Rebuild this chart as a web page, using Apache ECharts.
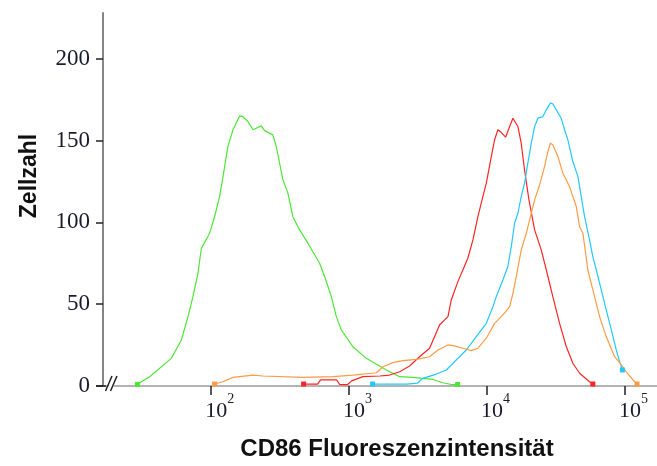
<!DOCTYPE html>
<html>
<head>
<meta charset="utf-8">
<script src="https://cdn.jsdelivr.net/npm/echarts@6/dist/echarts.min.js"></script>
<style>
  html, body { margin: 0; padding: 0; background: #fff; }
  #chart { width: 657px; height: 466px; }
</style>
</head>
<body>
<div id="chart"></div>
<script>
// CD86 histograms: x = log10 of fluorescence intensity, y = cell count
const decadeTicks = [2, 3, 4, 5];
const countTicks = [0, 50, 100, 150, 200];

const greenX = [1.469, 1.558, 1.715, 1.788, 1.836, 1.872, 1.908, 1.933, 1.993, 2.029, 2.065, 2.094, 2.125, 2.162, 2.210, 2.234, 2.270, 2.307, 2.367, 2.391, 2.451, 2.476, 2.524, 2.560, 2.596, 2.645, 2.705, 2.790, 2.826, 2.875, 2.911, 2.947, 3.031, 3.128, 3.273, 3.370, 3.464, 3.609, 3.681, 3.746, 3.790];
const greenY = [1, 5.7, 16.9, 28.1, 42.4, 54.6, 68.9, 84.2, 93.4, 103.6, 115.8, 130.1, 146.3, 156.6, 165.1, 164.7, 161.7, 156.6, 159.0, 156.1, 153.5, 146.4, 126.0, 117.9, 103.5, 95.4, 87.3, 75.0, 66.9, 54.6, 42.4, 34.3, 24.0, 16.9, 9.8, 5.7, 5.3, 4.1, 2.0, 0.9, 0.9];

const redX = [2.674, 2.775, 2.797, 2.913, 2.935, 2.993, 3.022, 3.104, 3.225, 3.297, 3.370, 3.442, 3.514, 3.587, 3.659, 3.720, 3.744, 3.792, 3.828, 3.864, 3.901, 3.937, 3.973, 3.998, 4.034, 4.058, 4.082, 4.107, 4.138, 4.167, 4.191, 4.203, 4.227, 4.251, 4.275, 4.307, 4.348, 4.396, 4.433, 4.480, 4.529, 4.578, 4.625, 4.674, 4.746, 4.770];
const redY = [1.2, 1.2, 3.7, 3.7, 0.9, 0.9, 3.1, 5.7, 6.1, 6.7, 8.7, 12.2, 17.9, 23.1, 37.3, 42.4, 52.6, 63.8, 70.9, 78.1, 89.3, 103.5, 115.8, 124.0, 140.2, 150.5, 156.6, 154.9, 152.1, 158.6, 163.7, 163.7, 158.6, 148.4, 132.1, 113.8, 95.4, 83.2, 70.9, 54.6, 38.3, 24.0, 13.9, 7.8, 2.6, 1.2];

const blueX = [3.174, 3.420, 3.500, 3.538, 3.636, 3.708, 3.780, 3.853, 3.925, 3.998, 4.046, 4.070, 4.118, 4.154, 4.179, 4.203, 4.227, 4.251, 4.275, 4.299, 4.324, 4.348, 4.372, 4.408, 4.433, 4.462, 4.480, 4.505, 4.541, 4.565, 4.589, 4.625, 4.662, 4.686, 4.710, 4.746, 4.770, 4.795, 4.831, 4.867, 4.904, 4.940, 4.964, 4.984];
const blueY = [1.2, 1.2, 1.8, 4.7, 7.3, 9.8, 15.9, 22.0, 30.2, 38.3, 48.5, 54.6, 64.8, 73.0, 85.2, 99.5, 105.6, 115.8, 124.0, 136.2, 148.4, 158.6, 163.7, 164.7, 168.8, 172.9, 172.5, 168.8, 163.7, 156.6, 150.5, 137.2, 128.0, 115.8, 103.5, 89.3, 79.1, 70.9, 58.7, 46.5, 34.3, 22.0, 14.9, 9.8];

const orangeX = [2.029, 2.089, 2.162, 2.307, 2.379, 2.669, 2.886, 3.031, 3.201, 3.249, 3.321, 3.393, 3.491, 3.587, 3.647, 3.720, 3.768, 3.828, 3.889, 3.937, 3.998, 4.058, 4.130, 4.167, 4.191, 4.215, 4.251, 4.288, 4.312, 4.348, 4.384, 4.420, 4.444, 4.462, 4.480, 4.517, 4.553, 4.601, 4.650, 4.674, 4.698, 4.734, 4.770, 4.819, 4.867, 4.928, 4.964, 5.012, 5.061, 5.090];
const orangeY = [1.2, 2.6, 5.3, 6.7, 6.1, 5.3, 5.7, 6.7, 8.1, 11.8, 14.3, 15.5, 16.3, 17.9, 22.0, 25.1, 24.5, 23.1, 21.6, 23.1, 29.2, 38.3, 44.5, 48.5, 56.7, 66.9, 83.2, 93.4, 101.5, 113.8, 122.9, 134.1, 143.3, 148.4, 147.4, 140.2, 130.1, 121.9, 109.7, 97.4, 93.4, 70.9, 58.7, 42.4, 30.2, 17.9, 14.3, 8.7, 3.7, 1.2];

function histogram(name, xs, ys, color) {
  return {
    name: name,
    type: 'line',
    symbol: 'none',
    color: color,
    lineStyle: { color: color, width: 1.2 },
    itemStyle: { color: color },
    emphasis: { disabled: true },
    silent: true,
    z: 3,
    data: xs.map(function (x, i) {
      const item = { value: [x, ys[i]] };
      if (i === 0 || i === xs.length - 1) {
        item.symbol = 'rect';
        item.symbolSize = 5;
      }
      return item;
    })
  };
}

const chart = echarts.init(document.getElementById('chart'), null, { renderer: 'canvas' });

chart.setOption({
  animation: false,
  backgroundColor: '#ffffff',
  grid: { left: 103, right: 0, top: 13, bottom: 80 },
  xAxis: {
    type: 'value',
    min: 1.22,
    max: 5.235,
    name: 'CD86 Fluoreszenzintensität',
    nameLocation: 'middle',
    nameGap: 51,
    nameTextStyle: {
      fontFamily: 'Liberation Sans', fontWeight: 'bold', fontSize: 24, color: '#111',
      padding: [0, 0, 0, 34]
    },
    splitLine: { show: false },
    axisLine: { lineStyle: { color: '#9a9a9a', width: 1.5 } },
    axisTick: {
      customValues: decadeTicks, length: 9,
      lineStyle: { color: '#222', width: 1.5 }
    },
    axisLabel: {
      customValues: decadeTicks,
      margin: 6,
      padding: [0, 0, 0, 18],
      formatter: function (v) { return '{b|10}{s|' + v + '}'; },
      rich: {
        b: { fontFamily: 'Liberation Serif', fontSize: 22, color: '#1a1a2e', padding: [8, 0, 0, 0], verticalAlign: 'bottom' },
        s: { fontFamily: 'Liberation Serif', fontSize: 14, color: '#1a1a2e', verticalAlign: 'top' }
      }
    }
  },
  yAxis: {
    type: 'value',
    min: 0,
    max: 228,
    name: 'Zellzahl',
    nameLocation: 'middle',
    nameGap: 62,
    nameTextStyle: {
      fontFamily: 'Liberation Sans', fontWeight: 'bold', fontSize: 23, color: '#111',
      padding: [0, 0, 0, 47]
    },
    splitLine: { show: false },
    axisLine: { lineStyle: { color: '#858585', width: 2 } },
    axisTick: {
      customValues: countTicks, length: 7,
      lineStyle: { color: '#222', width: 1.5 }
    },
    axisLabel: {
      customValues: countTicks,
      margin: 13,
      fontFamily: 'Liberation Serif',
      fontSize: 23,
      color: '#1a1a2e'
    }
  },
  series: [
    histogram('Kontrolle', greenX, greenY, '#4ce636'),
    histogram('Probe 1', redX, redY, '#ff2424'),
    histogram('Probe 2', blueX, blueY, '#22c8f8'),
    histogram('Probe 3', orangeX, orangeY, '#ff9a45')
  ]
});

// axis break mark "//" at the origin
const o = chart.convertToPixel({ gridIndex: 0 }, [1.22, 0]);
chart.setOption({
  graphic: [
    {
      type: 'polygon', z: 10, silent: true,
      shape: { points: [[o[0] + 4, o[1] + 4], [o[0] + 9, o[1] + 4], [o[0] + 15, o[1] - 10], [o[0] + 10, o[1] - 10]] },
      style: { fill: '#ffffff' }
    },
    {
      type: 'line', z: 11, silent: true,
      shape: { x1: o[0] + 2.5, y1: o[1] + 5, x2: o[0] + 9, y2: o[1] - 10 },
      style: { stroke: '#222', lineWidth: 1.5 }
    },
    {
      type: 'line', z: 11, silent: true,
      shape: { x1: o[0] + 7.5, y1: o[1] + 5, x2: o[0] + 14, y2: o[1] - 10 },
      style: { stroke: '#222', lineWidth: 1.5 }
    },
    {
      type: 'line', z: 11, silent: true,
      shape: { x1: o[0] - 7, y1: o[1], x2: o[0] + 3, y2: o[1] },
      style: { stroke: '#222', lineWidth: 1.5 }
    }
  ]
});
</script>
</body>
</html>
